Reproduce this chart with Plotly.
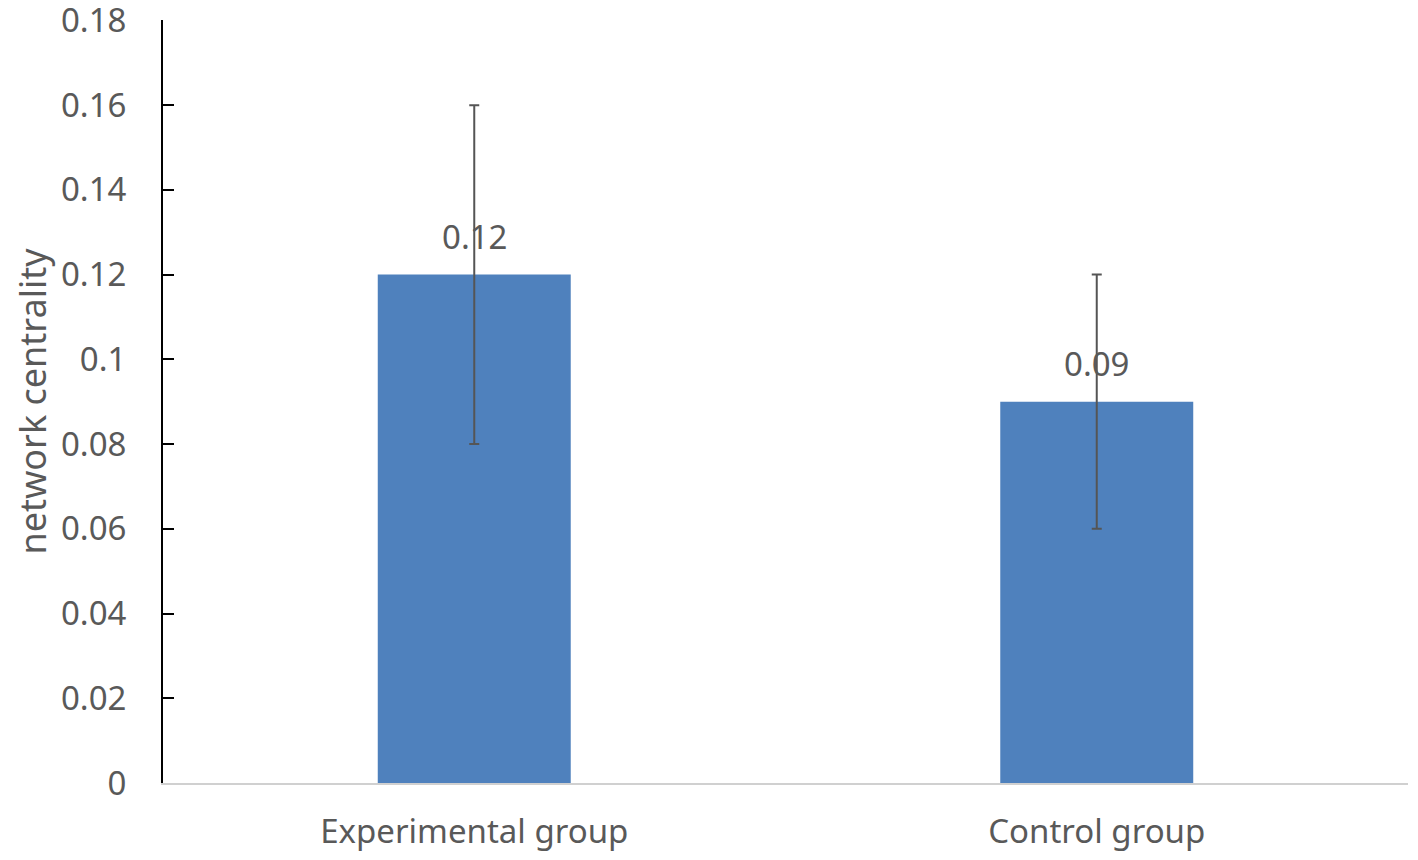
import plotly.graph_objects as go

GROUPS = ["Experimental group", "Control group"]
MEANS = [0.12, 0.09]
ERR_HIGH = [0.04, 0.03]
ERR_LOW = [0.04, 0.03]
Y_TICKS = [0, 0.02, 0.04, 0.06, 0.08, 0.1, 0.12, 0.14, 0.16, 0.18]
Y_TICK_TEXT = ["0", "0.02", "0.04", "0.06", "0.08", "0.1", "0.12", "0.14", "0.16", "0.18"]

BAR = "#4f81bd"
TEXT = "#595959"
FONT = "Noto Sans, Open Sans, sans-serif"

fig = go.Figure(
    go.Bar(
        x=GROUPS,
        y=MEANS,
        width=0.31,
        marker=dict(color=BAR, line=dict(width=0)),
        error_y=dict(
            type="data",
            symmetric=False,
            array=ERR_HIGH,
            arrayminus=ERR_LOW,
            color="#555555",
            thickness=2,
            width=5,
        ),
        hoverinfo="skip",
    )
)

# value labels sit just above each bar top
for g, v in zip(GROUPS, MEANS):
    fig.add_annotation(
        x=g,
        y=v,
        text=f"{v:g}",
        showarrow=False,
        yanchor="bottom",
        yshift=14,
        font=dict(size=33, color=TEXT, family=FONT),
    )

# page body has an 8px margin, so the figure is sized to sit inside the window
fig.update_layout(
    width=1410,
    height=852,
    paper_bgcolor="white",
    plot_bgcolor="white",
    showlegend=False,
    margin=dict(l=155, r=10, t=12, b=77),
    font=dict(family=FONT, color=TEXT, size=33),
)
fig.update_yaxes(
    range=[0, 0.1801],
    tickvals=Y_TICKS,
    ticktext=Y_TICK_TEXT,
    showgrid=False,
    zeroline=False,
    showline=True,
    linecolor="black",
    linewidth=2,
    ticks="inside",
    ticklen=11,
    tickwidth=2,
    tickcolor="black",
    ticklabelstandoff=28,
    ticklabeloverflow="allow",
    automargin=False,
    tickfont=dict(size=33, color=TEXT),
    title=dict(text="network centrality", font=dict(size=36, color=TEXT), standoff=24),
)
fig.update_xaxes(
    showgrid=False,
    showline=True,
    linecolor="#d0d0d0",
    linewidth=2,
    ticks="",
    ticklabelstandoff=18,
    automargin=False,
    tickfont=dict(size=33, color=TEXT),
)

fig.write_html("out.html")
